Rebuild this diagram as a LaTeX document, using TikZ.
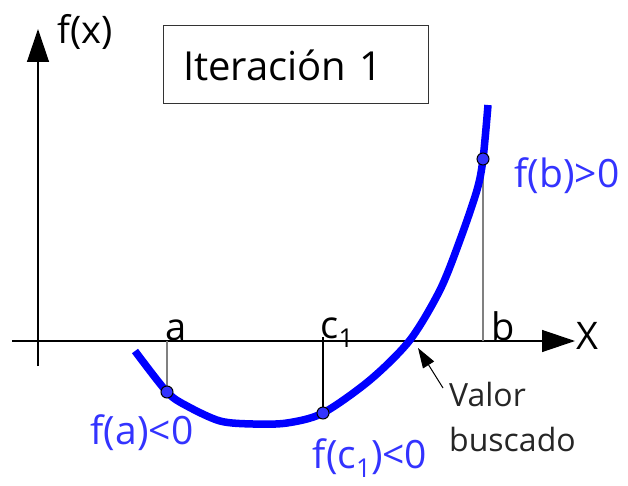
\documentclass[tikz,border=0pt]{standalone}
\usepackage{fontspec}
\setmainfont{Open Sans}
\usepackage{tikz}
\usetikzlibrary{arrows.meta,positioning}
\definecolor{curveblue}{RGB}{0,0,255}
\definecolor{lblblue}{RGB}{51,51,255}
\newcommand{\subone}{\raisebox{-9pt}{\fontsize{26}{28}\selectfont 1}}

\begin{document}
\begin{tikzpicture}[
  x=1pt, y=-1pt,
  axis/.style={line width=1.3pt, -{Triangle[length=33pt,width=22pt]}},
  box/.style={draw=black!80, line width=1pt, align=left, text width=225pt,
              inner xsep=20pt, minimum height=78pt, font=\fontsize{40}{44}\selectfont},
  lbl/.style={anchor=base, font=\fontsize{38}{42}\selectfont},
  val/.style={anchor=base, text=lblblue, font=\fontsize{39}{42}\selectfont},
  drop/.style={line width=1.5pt, black!50},
  dot/.style={circle, draw=black, fill=lblblue, inner sep=0pt,
              minimum size=12pt, line width=1pt},
  arr/.style={-{Triangle[length=20pt,width=13pt]}, line width=1pt}
]
\useasboundingbox (0,0) rectangle (628,486);

% axes
\coordinate (xs) at (12,341);
\coordinate (xe) at (575,341);
\coordinate (ys) at (38,366);
\coordinate (ye) at (38,29);
\draw[axis] (xs) -- (xe);
\draw[axis] (ys) -- (ye);
\node[lbl] (xlab) at (587,349) {X};
\node[lbl] (ylab) at (85,44) {f(x)};

% title
\node[box] (iter) at (295.5,65) {Iteración 1};

% points on the curve
\coordinate (pa) at (167,392);
\coordinate (pc) at (323,413);
\coordinate (pb) at (483,159);

% feet on the x axis
\coordinate (ta) at (167,341);
\coordinate (tc) at (323,337);
\coordinate (tb) at (483,341);
\draw[drop] (ta) -- (pa);
\draw[drop, black] (tc) -- (pc);
\draw[drop] (tb) -- (pb);

\draw[curveblue, line width=7.5pt]
  plot[smooth, tension=0.5] coordinates {(135,351) (pa) (187,406) (220,421)
    (253,424) (287,423) (pc) (370,380) (410,340) (440,290) (460,240)
    (477,190) (pb) (488,105)};

\node[dot] (da) at (pa) {};
\node[dot] (dc) at (pc) {};
\node[dot] (db) at (pb) {};

% labels
\node[lbl] (la) at (176,340) {a};
\node[lbl] (lc) at (337,338) {c\subone};
\node[lbl] (lb) at (503,340) {b};
\node[val] (fa) at (142,444) {f(a)<0};
\node[val] (fc) at (370,468) {f(c\subone)<0};
\node[val] (fb) at (567,188) {f(b)>0};

\node[anchor=base west, align=left, text=black!85, inner sep=0pt,
      font=\fontsize{32}{45}\selectfont] (vb) at (449,451) {Valor\\buscado};
\coordinate (vtail) at (443,388);
\coordinate (root) at (418,348);
\draw[arr] (vtail) -- (root);
\end{tikzpicture}
\end{document}
